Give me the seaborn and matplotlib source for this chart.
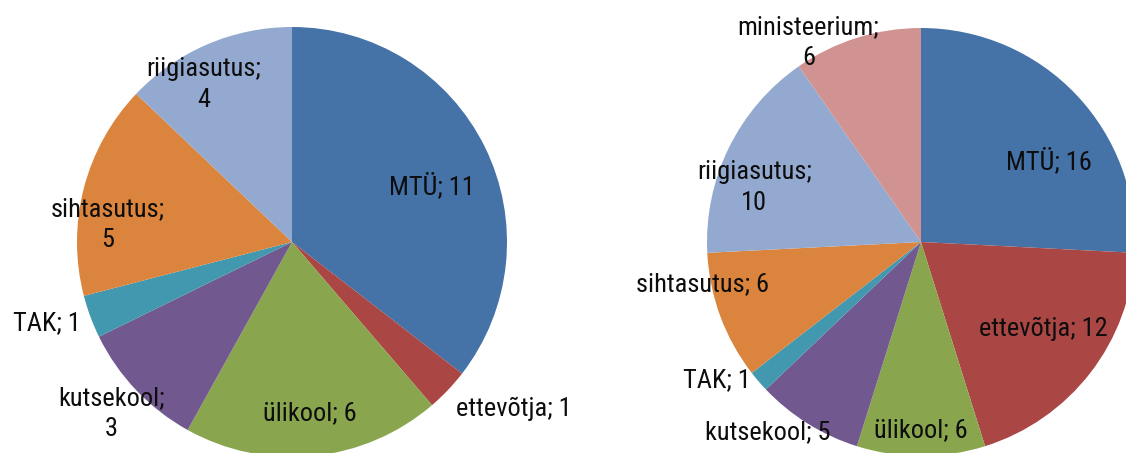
import numpy as np
import matplotlib
matplotlib.use("Agg")
import matplotlib.pyplot as plt
import seaborn as sns

sns.set_theme(style="white")
plt.rcParams['font.family'] = ['Roboto Condensed', 'Roboto', 'DejaVu Sans']

# data
left_labels = ["MTÜ", "ettevõtja", "ülikool", "kutsekool", "TAK", "sihtasutus", "riigiasutus"]
left_values = [11, 1, 6, 3, 1, 5, 4]
right_labels = ["MTÜ", "ettevõtja", "ülikool", "kutsekool", "TAK", "sihtasutus", "riigiasutus", "ministeerium"]
right_values = [16, 12, 6, 5, 1, 6, 10, 6]

palette = {
    "MTÜ": "#4572A7", "ettevõtja": "#AA4643", "ülikool": "#89A54E",
    "kutsekool": "#71588F", "TAK": "#4198AF", "sihtasutus": "#DB843D",
    "riigiasutus": "#93A9CF", "ministeerium": "#D19392",
}

# label placement (radius fraction, angle nudge in degrees, line break)
left_style = {
    "MTÜ": (0.70, -4, False), "ettevõtja": (1.29, 6.5, False), "ülikool": (0.80, 0, False),
    "kutsekool": (1.16, 0, True), "TAK": (1.20, -2, False), "sihtasutus": (0.86, 9, True),
    "riigiasutus": (0.84, 6, True),
}
right_style = {
    "MTÜ": (0.71, -11, False), "ettevõtja": (0.70, 2.5, False), "ülikool": (0.88, 0, False),
    "kutsekool": (1.14, -7, False), "TAK": (1.15, -6.5, False), "sihtasutus": (1.04, -9.5, False),
    "riigiasutus": (0.82, 8, True), "ministeerium": (1.07, 12, True),
}


def draw_pie(ax, labels, values, style):
    colors = [palette[l] for l in labels]
    wedges, _ = ax.pie(values, colors=colors, startangle=90, counterclock=False,
                       radius=1, wedgeprops=dict(linewidth=0))
    for w, lab, val in zip(wedges, labels, values):
        dist, nudge, brk = style[lab]
        mid = np.deg2rad((w.theta1 + w.theta2) / 2 + nudge)
        sep = ";\n" if brk else "; "
        ax.text(dist * np.cos(mid), dist * np.sin(mid), f"{lab}{sep}{val}",
                ha="center", va="center", fontsize=19, color="#0d0d0d",
                linespacing=1.35)
    ax.set_xlim(-1, 1)
    ax.set_ylim(-1, 1)
    ax.set_aspect("equal")
    ax.axis("off")


W, H = 1126, 453
fig = plt.figure(figsize=(W / 100, H / 100), dpi=100)
ax1 = fig.add_axes([77 / W, -4 / H, 430 / W, 430 / H])
ax2 = fig.add_axes([707 / W, -3 / H, 428 / W, 428 / H])

draw_pie(ax1, left_labels, left_values, left_style)
draw_pie(ax2, right_labels, right_values, right_style)

fig.savefig("out.png", dpi=100)
